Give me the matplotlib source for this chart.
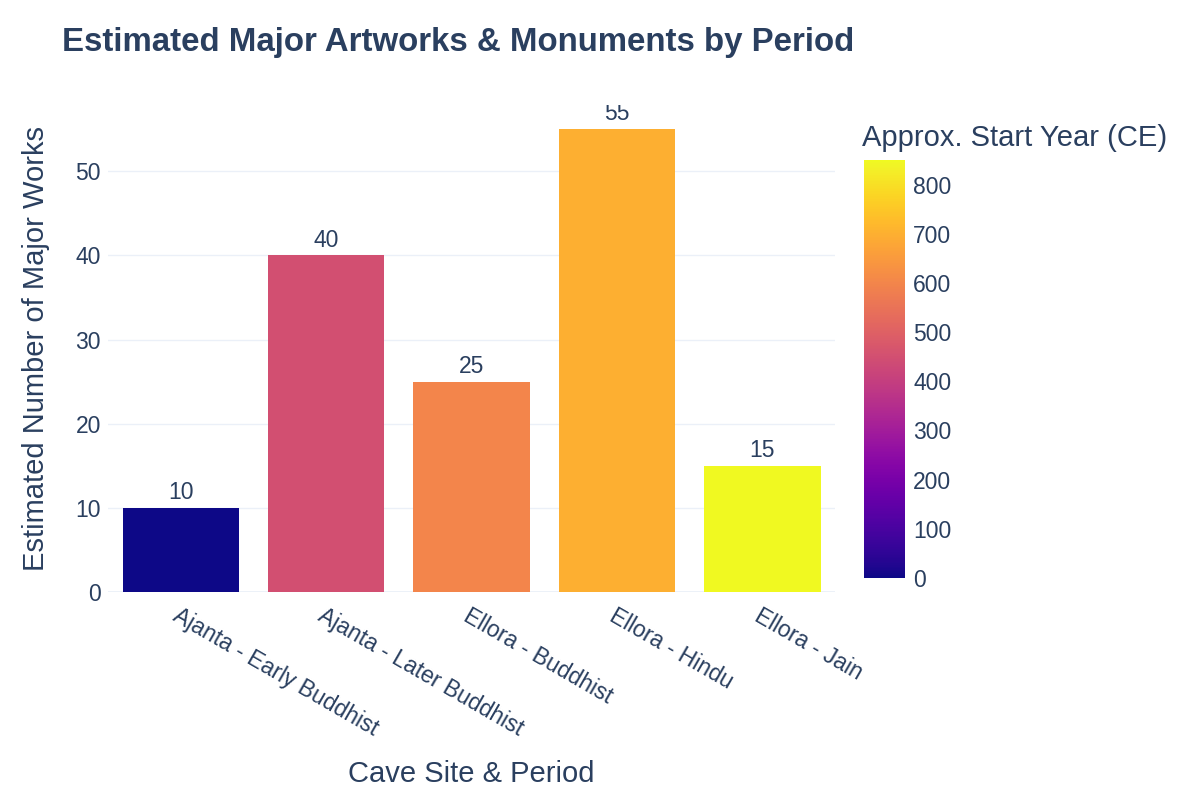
import numpy as np
import matplotlib.pyplot as plt
import matplotlib.transforms as mtransforms
from matplotlib import cm
from matplotlib.colors import Normalize

# ── DATA ──────────────────────────────────────────────────────────────────────
periods = ["Ajanta - Early Buddhist", "Ajanta - Later Buddhist",
           "Ellora - Buddhist", "Ellora - Hindu", "Ellora - Jain"]
works = [10, 40, 25, 55, 15]
start_year = [0, 450, 600, 700, 850]

TEXT = "#2a3f5f"
GRID = "#ebf0f8"

plt.rcParams.update({
    "font.family": ["Liberation Sans", "DejaVu Sans"],
    "text.color": TEXT,
    "axes.labelcolor": TEXT,
    "xtick.color": TEXT,
    "ytick.color": TEXT,
})

fig = plt.figure(figsize=(12, 8), dpi=100)
ax = fig.add_axes([0.09, 0.26, 0.606, 0.609])

norm = Normalize(vmin=0, vmax=850)
cmap = plt.get_cmap("plasma")
x = np.arange(len(periods))
bars = ax.bar(x, works, width=0.8, color=cmap(norm(np.array(start_year))), zorder=3)

# value labels, clipped at the plot edge like the original
for xi, v in zip(x, works):
    ax.text(xi, v + 0.45, str(v), ha="center", va="bottom", fontsize=16.5, color=TEXT,
            zorder=4, clip_on=True)

ax.set_xlim(-0.5, 4.5)
ax.set_ylim(0, 57.9)
ax.set_yticks([0, 10, 20, 30, 40, 50])
ax.grid(axis="y", color=GRID, linewidth=1, zorder=0)
ax.axhline(0, color=GRID, linewidth=2, zorder=2)
for s in ax.spines.values():
    s.set_visible(False)
ax.tick_params(axis="both", length=0, labelsize=16.5)
ax.tick_params(axis="y", pad=5)
ax.set_xticks(x)
ax.set_xticklabels(periods, rotation=-30, ha="left", va="center",
                   rotation_mode="anchor")
ax.tick_params(axis="x", pad=16)
shift = mtransforms.ScaledTranslation(-6 / 100, 0, fig.dpi_scale_trans)
for lbl in ax.get_xticklabels():
    lbl.set_transform(lbl.get_transform() + shift)
ax.set_ylabel("Estimated Number of Major Works", fontsize=21)
ax.yaxis.set_label_coords(-0.08, 0.5)
ax.set_xlabel("Cave Site & Period", fontsize=21)
ax.xaxis.set_label_coords(0.5, -0.345)

# colorbar
cax = fig.add_axes([0.72, 0.2775, 0.034, 0.5225])
sm = cm.ScalarMappable(norm=norm, cmap=cmap)
cb = fig.colorbar(sm, cax=cax)
cb.outline.set_visible(False)
cb.set_ticks([0, 100, 200, 300, 400, 500, 600, 700, 800])
cax.tick_params(length=0, labelsize=16.5, pad=6)
fig.text(0.718, 0.828, "Approx. Start Year (CE)", fontsize=21, color=TEXT,
         ha="left", va="center")

fig.text(0.052, 0.947, "Estimated Major Artworks & Monuments by Period",
         fontsize=23.8, fontweight="bold", color=TEXT, ha="left", va="center")

fig.savefig("out.png", dpi=100, facecolor="white")
